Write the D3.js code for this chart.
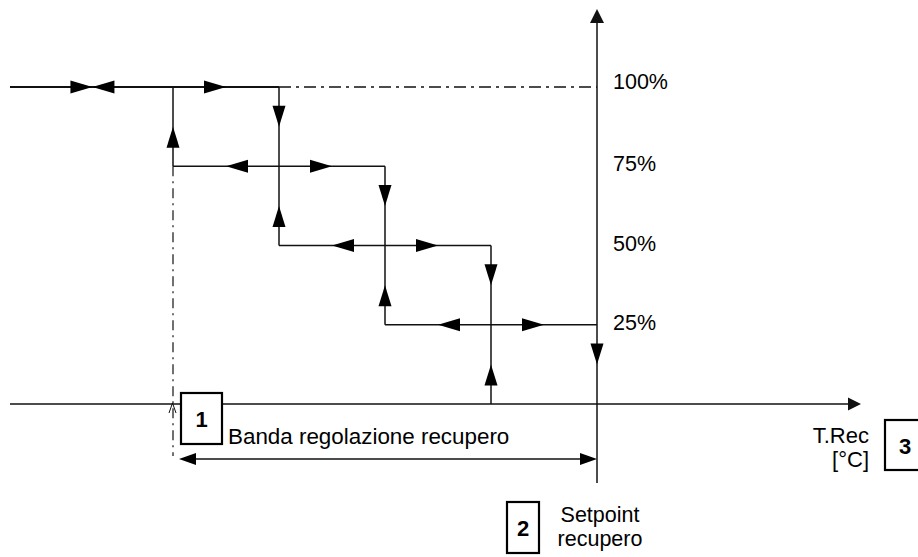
<!DOCTYPE html>
<html><head><meta charset="utf-8">
<script src="https://cdn.jsdelivr.net/npm/d3@7"></script>
<style>body{margin:0;background:#fff} svg{display:block} text{font-family:"Liberation Sans",Arial,sans-serif;fill:#000}</style>
</head><body><svg id="c" width="918" height="557"></svg>
<script>
// ---- data ----
const steps = [0,1,2,3,4];                 // capacity steps across the band (4 = setpoint)
const levels = [100,75,50,25,0];           // capacity levels (%)
const labelLevels = [100,75,50,25];
const levelLabels = ["100%","75%","50%","25%"];
// horizontal solid segments: [level, fromStep (null = left edge), toStep]
const hSegments = [[100,null,1],[75,0,2],[50,1,3],[25,2,4]];
// vertical solid segments: [step, fromLevel, toLevel]
const vSegments = [[0,100,75],[1,100,50],[2,75,25],[3,50,0]];
// arrows on horizontals: [level, tipStep, direction]
const hArrows = [[100,-0.76,"r"],[100,-0.76,"l"],[100,0.5,"r"],[75,0.5,"l"],[75,1.5,"r"],[50,1.5,"l"],[50,2.5,"r"],[25,2.5,"l"],[25,3.5,"r"]];
// arrows on verticals: [step, tipLevel, direction]
const vArrows = [[0,87.5,"u"],[1,87.5,"d"],[1,62.5,"u"],[2,62.5,"d"],[2,37.5,"u"],[3,37.5,"d"],[3,12.5,"u"],[4,12.5,"d"]];
const bandLabel = "Banda regolazione recupero";
const axisLabel = ["T.Rec","[°C]"];
const setpointLabel = ["Setpoint","recupero"];
const boxLabels = ["1","2","3"];

// ---- layout ----
const svg = d3.select("#c");
const x = d3.scaleLinear().domain([0,4]).range([173,597]);
const y = d3.scaleLinear().domain([0,100]).range([404,87]);
const leftEdge = 10, xAxisEnd = 861, yAxisTop = 9, yAxisBottom = 483;
const ink = "#111";
const fs = 22;

function tri(tx, ty, dir, len, hw){
  let p;
  if(dir==="r") p=[[tx,ty],[tx-len,ty-hw],[tx-len,ty+hw]];
  if(dir==="l") p=[[tx,ty],[tx+len,ty-hw],[tx+len,ty+hw]];
  if(dir==="u") p=[[tx,ty],[tx-hw,ty+len],[tx+hw,ty+len]];
  if(dir==="d") p=[[tx,ty],[tx-hw,ty-len],[tx+hw,ty-len]];
  return "M"+p.map(d=>d.join(",")).join("L")+"Z";
}

// axes
svg.append("line").attr("x1",leftEdge).attr("x2",xAxisEnd-12).attr("y1",y(0)).attr("y2",y(0))
  .attr("stroke",ink).attr("stroke-width",1.5);
svg.append("path").attr("d",tri(xAxisEnd,y(0),"r",13,6.5)).attr("fill",ink);
svg.append("line").attr("x1",x(4)).attr("x2",x(4)).attr("y1",yAxisTop+12).attr("y2",yAxisBottom)
  .attr("stroke",ink).attr("stroke-width",1.5);
svg.append("path").attr("d",tri(x(4),yAxisTop,"u",14,7)).attr("fill",ink);

// dash-dot lines
svg.append("line").attr("x1",x(1)).attr("x2",x(4)).attr("y1",y(100)).attr("y2",y(100))
  .attr("stroke",ink).attr("stroke-width",1.3).attr("stroke-dasharray","12,5,3,5");
svg.append("line").attr("x1",x(0)).attr("x2",x(0)).attr("y1",y(75)).attr("y2",y(0)+52)
  .attr("stroke",ink).attr("stroke-width",1.2).attr("stroke-dasharray","10,5,2,5");

// staircase
svg.selectAll(".h").data(hSegments).join("line")
  .attr("x1",d=>d[1]===null?leftEdge:x(d[1])).attr("x2",d=>x(d[2]))
  .attr("y1",d=>y(d[0])).attr("y2",d=>y(d[0]))
  .attr("stroke",ink).attr("stroke-width",(d)=>d[1]===null?1.8:1.5);
svg.selectAll(".v").data(vSegments).join("line")
  .attr("x1",d=>x(d[0])).attr("x2",d=>x(d[0]))
  .attr("y1",d=>y(d[1])).attr("y2",d=>y(d[2]))
  .attr("stroke",ink).attr("stroke-width",1.5);

svg.selectAll(".ha").data(hArrows).join("path")
  .attr("d",d=>tri(x(d[1]),y(d[0]),d[2],22,6.5)).attr("fill","#000");
svg.selectAll(".va").data(vArrows).join("path")
  .attr("d",d=>tri(x(d[0]),y(d[1]),d[2],21,6.5)).attr("fill","#000");

// small open arrow at band start on x axis
svg.append("path").attr("d",`M${x(0)-4},${y(0)+9}L${x(0)-0.5},${y(0)-1}L${x(0)+3},${y(0)+9}`)
  .attr("fill","none").attr("stroke",ink).attr("stroke-width",1);

// level labels
svg.selectAll(".lab").data(labelLevels).join("text")
  .attr("x",x(4)+16).attr("y",(d,i)=>y(d)-(i===0?5:2)).attr("dominant-baseline","central")
  .attr("font-size",21.5).text((d,i)=>levelLabels[i]);

// band arrow
const bandY = y(0)+55;
svg.append("line").attr("x1",x(0)+20).attr("x2",x(4)-16).attr("y1",bandY).attr("y2",bandY)
  .attr("stroke",ink).attr("stroke-width",1.5);
svg.append("path").attr("d",tri(x(0)+6,bandY,"l",17,6)).attr("fill","#000");
svg.append("path").attr("d",tri(x(4),bandY,"r",17,6)).attr("fill","#000");
svg.append("text").attr("x",228).attr("y",444).attr("font-size",22.4).text(bandLabel);

// axis label
svg.selectAll(".al").data(axisLabel).join("text")
  .attr("x",869).attr("y",(d,i)=>443+i*24).attr("text-anchor","end").attr("font-size",fs).text(d=>d);
// setpoint label
svg.selectAll(".sl").data(setpointLabel).join("text")
  .attr("x",600).attr("y",(d,i)=>522+i*24).attr("text-anchor","middle").attr("font-size",21.5).text(d=>d);

// numbered boxes
const boxPos = [[181,393,41,51],[507,502,32,51],[885,420,40,50]];
boxLabels.forEach((t,i)=>{
  const [bx,by,bw,bh]=boxPos[i];
  svg.append("rect").attr("x",bx).attr("y",by).attr("width",bw).attr("height",bh)
    .attr("fill","#fff").attr("stroke","#000").attr("stroke-width",2.2);
  svg.append("text").attr("x",bx+bw/2).attr("y",by+bh/2+1).attr("text-anchor","middle")
    .attr("dominant-baseline","central").attr("font-weight","bold").attr("font-size",22).text(t);
});
</script></body></html>
